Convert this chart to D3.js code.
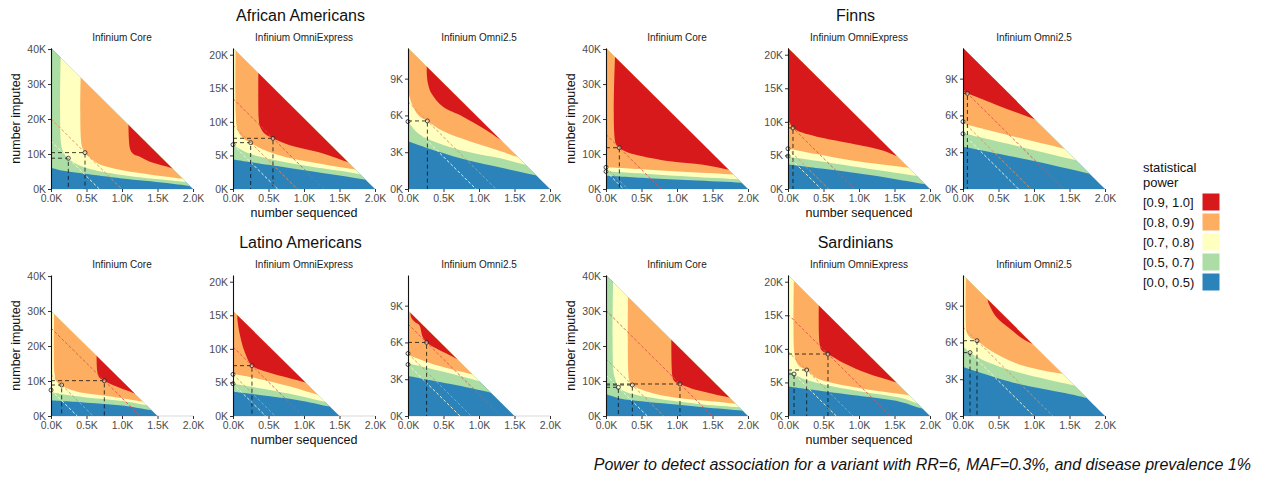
<!DOCTYPE html>
<html>
<head>
<meta charset="utf-8">
<script src="https://cdn.jsdelivr.net/npm/d3@7"></script>
<style>
  body { margin: 0; background: #fff; }
  svg { font-family: "Liberation Sans", Arial, sans-serif; }
</style>
</head>
<body>
<svg id="chart" width="1261" height="478"></svg>
<script>
// power bands, lowest first
var bandLabels = ['[0.0, 0.5)', '[0.5, 0.7)', '[0.7, 0.8)', '[0.8, 0.9)', '[0.9, 1.0]'];
var bandColors = ['#2b83ba', '#abdda4', '#ffffbf', '#fdae61', '#d7191c'];
// colour of the dashed iso-cost line through an optimal design, by band
var isoColors = [null, '#e3f3df', '#fbfbd8', '#e0905a', '#e0504f'];

var chips = ['Infinium Core', 'Infinium OmniExpress', 'Infinium Omni2.5'];
var chipMax = [40300, 21000, 11500];
var chipTicks = [
  [0, 10000, 20000, 30000, 40000],
  [0, 5000, 10000, 15000, 20000],
  [0, 3000, 6000, 9000]
];
var xTicks = [0, 500, 1000, 1500, 2000];

// one entry per chip. apex/xmax = budget line intercepts (imputed, sequenced).
// bounds = contour lines at power 0.5, 0.7, 0.8, 0.9 as [sequenced, imputed].
// opt = optimal designs [sequenced, imputed, band]
var africanAmericans = [
  { apex: 40300, xmax: 2000,
    bounds: [
      [[0, 6100], [150, 5300], [455, 4400], [1000, 3000], [1629, 1700], [2000, 700], [2100, 400]],
      [[141, 42000], [141, 13000], [175, 10500], [244, 8800], [350, 7200], [500, 6000], [700, 5000], [1000, 4000], [1400, 3000], [1629, 2600], [2100, 1600]],
      [[432, 42000], [432, 12500], [479, 10400], [560, 8800], [690, 7000], [900, 5800], [1200, 4700], [1629, 3500], [2100, 2300]],
      [[1113, 42000], [1113, 11500], [1160, 10000], [1253, 9200], [1394, 7800], [1629, 6400], [1800, 5200], [2100, 3800]]
    ],
    opt: [[244, 8800, 2], [479, 10400, 3]] },
  { apex: 21000, xmax: 2000,
    bounds: [
      [[0, 4400], [500, 3600], [1000, 2800], [1500, 2000], [1870, 1370], [2100, 900]],
      [[0, 6600], [200, 5400], [500, 4500], [1000, 3500], [1500, 2700], [1790, 2200], [2100, 1600]],
      [[38, 22000], [38, 11300], [60, 9000], [120, 7800], [249, 6900], [400, 6000], [800, 4600], [1268, 3700], [1720, 2900], [2100, 2200]],
      [[362, 22000], [362, 10500], [380, 9300], [440, 8300], [563, 7550], [800, 6500], [1268, 5300], [1643, 3900], [2100, 2300]]
    ],
    opt: [[563, 7550, 4], [249, 6900, 3], [0, 6600, 2]] },
  { apex: 11500, xmax: 2000,
    bounds: [
      [[0, 3900], [400, 3100], [868, 2300], [1300, 1750], [1780, 1150], [2100, 800]],
      [[0, 5500], [150, 4500], [400, 3800], [868, 3000], [1300, 2500], [1667, 1950], [2100, 1400]],
      [[0, 8100], [50, 7000], [150, 6000], [273, 5550], [500, 4700], [868, 3900], [1300, 3100], [1549, 2600], [2100, 1900]],
      [[267, 12000], [267, 9200], [285, 8500], [329, 7800], [493, 6700], [775, 5900], [1104, 4800], [1400, 3700], [2100, 2000]]
    ],
    opt: [[273, 5550, 3], [0, 5500, 2]] }
];

var finns = [
  { apex: 40300, xmax: 2000,
    bounds: [
      [[0, 3800], [600, 3100], [1200, 2500], [1911, 1800], [2100, 1400]],
      [[0, 5000], [600, 4300], [1200, 3500], [1863, 2760], [2100, 2300]],
      [[0, 6200], [600, 5500], [1200, 4800], [1793, 4150], [2100, 3500]],
      [[136, 42000], [136, 13000], [188, 11800], [300, 10500], [432, 9700], [901, 7900], [1370, 6900], [1750, 5400], [2100, 4300]]
    ],
    opt: [[188, 11800, 4], [0, 6200, 3], [0, 5000, 2]] },
  { apex: 21000, xmax: 2000,
    bounds: [
      [[0, 3650], [500, 3000], [1000, 2300], [1500, 1500], [1933, 700], [2100, 400]],
      [[0, 4800], [400, 4200], [900, 3400], [1400, 2600], [1816, 1930], [2100, 1500]],
      [[0, 6050], [400, 5200], [877, 4300], [1300, 3700], [1700, 3150], [2100, 2500]],
      [[0, 10500], [30, 9700], [70, 9100], [200, 8400], [408, 7800], [877, 6800], [1346, 5700], [1560, 4800], [2100, 3200]]
    ],
    opt: [[70, 9100, 4], [0, 6000, 3], [0, 4900, 2]] },
  { apex: 11500, xmax: 2000,
    bounds: [
      [[0, 3450], [900, 2400], [1784, 1250], [2100, 850]],
      [[0, 4540], [800, 3450], [1596, 2340], [2100, 1650]],
      [[0, 5350], [700, 4300], [1432, 3270], [2100, 2300]],
      [[0, 7950], [500, 6800], [1010, 5690], [1500, 4600], [2100, 3300]]
    ],
    opt: [[62, 7800, 4], [0, 5500, 3], [0, 4500, 2]] }
];

var latinoAmericans = [
  { apex: 30000, xmax: 1500,
    bounds: [
      [[0, 4400], [500, 3800], [1000, 3000], [1418, 1640], [1600, 1100]],
      [[0, 6800], [300, 5800], [700, 4900], [1100, 4000], [1347, 3060], [1600, 2400]],
      [[47, 32000], [47, 12500], [70, 10300], [103, 9300], [150, 8860], [221, 7900], [400, 6800], [690, 6000], [1000, 5100], [1300, 4100], [1600, 3000]],
      [[652, 32000], [652, 12700], [680, 11000], [751, 10100], [925, 8400], [1160, 6600], [1400, 5000]]
    ],
    opt: [[751, 10100, 4], [150, 8860, 3], [0, 7400, 2]] },
  { apex: 15650, xmax: 1500,
    bounds: [
      [[0, 3600], [400, 3100], [900, 2400], [1366, 1400], [1600, 900]],
      [[0, 4800], [400, 4100], [800, 3300], [1300, 2090], [1600, 1400]],
      [[0, 6300], [338, 5600], [807, 4400], [1196, 3150], [1600, 2100]],
      [[75, 17000], [60, 14800], [103, 11800], [173, 9300], [267, 7500], [573, 6250], [807, 5600], [1042, 4960], [1400, 4000]]
    ],
    opt: [[267, 7500, 4], [0, 6200, 3], [0, 4800, 2]] },
  { apex: 8600, xmax: 1500,
    bounds: [
      [[0, 3260], [600, 2600], [1168, 1900], [1500, 1400]],
      [[0, 4300], [500, 3600], [1004, 2840], [1400, 2200]],
      [[0, 5000], [394, 4160], [910, 3380], [1300, 2700]],
      [[30, 9500], [42, 8100], [89, 7700], [159, 7400], [206, 6470], [262, 6000], [394, 5520], [581, 4980], [722, 4570], [1000, 3800]]
    ],
    opt: [[262, 6000, 4], [0, 5100, 3], [0, 4200, 2]] }
];

var sardinians = [
  { apex: 40300, xmax: 2000,
    bounds: [
      [[0, 6300], [197, 5000], [500, 4200], [901, 3400], [1370, 2500], [1924, 1500], [2100, 1100]],
      [[103, 42000], [103, 13100], [130, 10500], [174, 8200], [300, 6700], [431, 6000], [901, 4400], [1370, 3300], [1877, 2500], [2100, 2000]],
      [[314, 42000], [314, 12200], [330, 10000], [371, 8860], [572, 7000], [901, 5500], [1370, 4400], [1825, 3500], [2100, 2800]],
      [[934, 42000], [934, 11500], [960, 10000], [1042, 9150], [1277, 7400], [1512, 6300], [1736, 5300], [2100, 3900]]
    ],
    opt: [[1042, 9150, 4], [371, 8860, 3], [174, 8200, 2]] },
  { apex: 21000, xmax: 2000,
    bounds: [
      [[0, 4400], [500, 3700], [1000, 3000], [1587, 2100], [1890, 1100], [2100, 600]],
      [[0, 6900], [85, 6250], [200, 5600], [500, 4700], [1000, 3700], [1587, 2700], [1822, 1870], [2100, 1300]],
      [[85, 22000], [85, 9800], [110, 8300], [160, 7400], [263, 6850], [413, 5600], [882, 4400], [1351, 3600], [1703, 3100], [2100, 2400]],
      [[446, 22000], [446, 10600], [480, 9700], [563, 9230], [789, 7850], [1117, 6350], [1525, 5000], [2100, 3300]]
    ],
    opt: [[563, 9230, 4], [263, 6850, 3], [85, 6250, 2]] },
  { apex: 11500, xmax: 2000,
    bounds: [
      [[0, 4000], [746, 2670], [1450, 1850], [1746, 1460], [2100, 900]],
      [[0, 5700], [99, 5170], [277, 4570], [746, 3600], [1215, 2940], [1567, 2490], [2100, 1700]],
      [[42, 12000], [42, 7200], [60, 6700], [113, 6350], [197, 6140], [371, 5400], [746, 4300], [1215, 3600], [1403, 3430], [2100, 2300]],
      [[347, 12000], [350, 9400], [371, 9050], [465, 8100], [653, 7150], [841, 6300], [982, 5870], [1300, 5000]]
    ],
    opt: [[197, 6140, 3], [99, 5170, 2]] }
];

var populations = [
  { name: 'African Americans', panels: africanAmericans, row: 0, group: 0 },
  { name: 'Finns', panels: finns, row: 0, group: 1 },
  { name: 'Latino Americans', panels: latinoAmericans, row: 1, group: 0 },
  { name: 'Sardinians', panels: sardinians, row: 1, group: 1 }
];

// layout
var colLeft = [51, 233, 408, 606, 788, 963];
var rowBottom = [189, 416];
var panelW = 142;
var panelH = 141;

var svg = d3.select('#chart');
var line = d3.line().curve(d3.curveCatmullRom.alpha(0.5));

populations.forEach(function (pop) {
  var bottom = rowBottom[pop.row];
  var groupLeft = colLeft[pop.group * 3];
  var groupRight = colLeft[pop.group * 3 + 2] + panelW;

  // population title
  svg.append('text')
    .attr('x', (groupLeft + groupRight) / 2)
    .attr('y', bottom - panelH - 27)
    .attr('text-anchor', 'middle')
    .attr('font-size', 16)
    .attr('fill', '#111')
    .text(pop.name);

  pop.panels.forEach(function (p, c) {
    var left = colLeft[pop.group * 3 + c];
    var x = d3.scaleLinear().domain([0, 2000]).range([left, left + panelW]);
    var y = d3.scaleLinear().domain([0, chipMax[c]]).range([bottom, bottom - panelH]);
    var g = svg.append('g');
    var clipId = 'clip-' + pop.row + '-' + pop.group + '-' + c;

    // chip name
    g.append('text')
      .attr('x', left + panelW / 2)
      .attr('y', bottom - panelH - 7)
      .attr('text-anchor', 'middle')
      .attr('font-size', 10)
      .attr('fill', '#1a1a1a')
      .text(chips[c]);

    // light baseline under the fill
    g.append('line')
      .attr('x1', x(0)).attr('x2', x(2000))
      .attr('y1', y(0)).attr('y2', y(0))
      .attr('stroke', '#d9d9d9');

    // the affordable designs: triangle under the budget line
    var tri = [[0, 0], [0, p.apex], [p.xmax, 0]];
    var triPath = 'M' + tri.map(function (d) { return [x(d[0]), y(d[1])]; }).join('L') + 'Z';
    g.append('clipPath').attr('id', clipId)
      .append('path').attr('d', triPath);

    g.append('path')
      .attr('d', triPath)
      .attr('fill', bandColors[0]);

    var bands = g.append('g').attr('clip-path', 'url(#' + clipId + ')');
    p.bounds.forEach(function (b, i) {
      var pts = b.map(function (d) { return [x(d[0]), y(d[1])]; });
      var d = line(pts) +
        'L' + x(2300) + ',' + y(60000) +
        'L' + pts[0][0] + ',' + y(60000) + 'Z';
      bands.append('path')
        .attr('d', d)
        .attr('fill', bandColors[i + 1]);
    });

    // iso-cost lines through the optimal designs
    var slope = p.apex / p.xmax;
    p.opt.forEach(function (o) {
      var y0 = o[1] + o[0] * slope;
      g.append('line')
        .attr('x1', x(0)).attr('y1', y(y0))
        .attr('x2', x(y0 / slope)).attr('y2', y(0))
        .attr('stroke', isoColors[o[2]])
        .attr('stroke-width', 0.9)
        .attr('stroke-dasharray', '3,2');
    });

    // guides to the axes
    p.opt.filter(function (o) { return o[0] > 0; }).forEach(function (o) {
      g.append('path')
        .attr('d', 'M' + x(0) + ',' + y(o[1]) + 'L' + x(o[0]) + ',' + y(o[1]) +
          'L' + x(o[0]) + ',' + y(0))
        .attr('fill', 'none')
        .attr('stroke', '#111')
        .attr('stroke-opacity', 0.8)
        .attr('stroke-width', 1)
        .attr('stroke-dasharray', '4,3');
    });

    g.selectAll('circle.opt')
      .data(p.opt)
      .enter().append('circle')
      .attr('class', 'opt')
      .attr('cx', function (d) { return x(d[0]); })
      .attr('cy', function (d) { return y(d[1]); })
      .attr('r', 2)
      .attr('fill', 'rgba(255,255,255,0.35)')
      .attr('stroke', '#222')
      .attr('stroke-width', 0.8);

    // axes
    var xAxis = g.append('g')
      .attr('transform', 'translate(0,' + bottom + ')')
      .call(d3.axisBottom(x).tickValues(xTicks).tickSize(3).tickSizeOuter(0).tickPadding(3)
        .tickFormat(function (d) { return (d / 1000).toFixed(1) + 'K'; }));
    xAxis.select('.domain').remove();

    var yAxis = g.append('g')
      .attr('transform', 'translate(' + left + ',0)')
      .call(d3.axisLeft(y).tickValues(chipTicks[c]).tickSize(3).tickSizeOuter(0).tickPadding(2)
        .tickFormat(function (d) { return (d / 1000) + 'K'; }));
    yAxis.select('.domain').attr('stroke', '#111').attr('stroke-width', 1.1);

    [xAxis, yAxis].forEach(function (a) {
      a.selectAll('.tick line').attr('stroke', '#333');
      a.selectAll('.tick text')
        .attr('fill', '#4d4d4d')
        .attr('font-size', 10.5)
        .attr('font-family', '"Liberation Sans", Arial, sans-serif');
    });

    if (c === 0) {
      g.append('text')
        .attr('transform', 'translate(' + (left - 35) + ',' + (bottom - panelH / 2) + ') rotate(-90)')
        .attr('text-anchor', 'middle')
        .attr('dy', '0.35em')
        .attr('font-size', 12.5)
        .attr('fill', '#111')
        .text('number imputed');
    }
    if (c === 1) {
      g.append('text')
        .attr('x', left + panelW / 2)
        .attr('y', bottom + 28)
        .attr('text-anchor', 'middle')
        .attr('font-size', 12.5)
        .attr('fill', '#111')
        .text('number sequenced');
    }
  });
});

// legend, highest band on top
var legend = svg.append('g');
legend.append('text')
  .attr('x', 1143).attr('y', 172)
  .attr('font-size', 13).attr('fill', '#111')
  .text('statistical');
legend.append('text')
  .attr('x', 1143).attr('y', 187)
  .attr('font-size', 13).attr('fill', '#111')
  .text('power');

var order = d3.range(bandLabels.length).reverse();
var key = legend.selectAll('g.key')
  .data(order)
  .enter().append('g')
  .attr('class', 'key')
  .attr('transform', function (d, i) { return 'translate(0,' + (193 + i * 20) + ')'; });
key.append('rect')
  .attr('x', 1202).attr('width', 18).attr('height', 18)
  .attr('fill', function (d) { return bandColors[d]; })
  .attr('stroke', '#fff');
key.append('text')
  .attr('x', 1143).attr('y', 9).attr('dy', '0.35em')
  .attr('font-size', 13).attr('fill', '#111')
  .text(function (d) { return bandLabels[d]; });

// caption
svg.append('text')
  .attr('x', 1251).attr('y', 470)
  .attr('text-anchor', 'end')
  .attr('font-size', 16)
  .attr('font-style', 'italic')
  .attr('fill', '#111')
  .text('Power to detect association for a variant with RR=6, MAF=0.3%, and disease prevalence 1%');
</script>
</body>
</html>
